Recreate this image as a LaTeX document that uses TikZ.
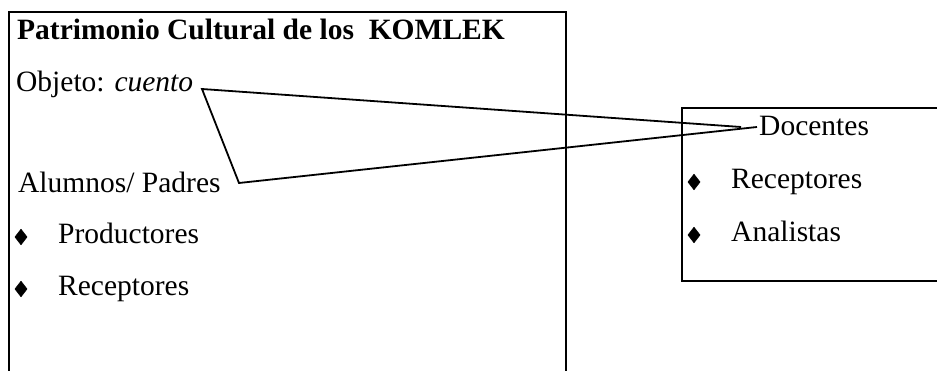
\documentclass[tikz,border=0pt]{standalone}
\usepackage{fontspec}
\setmainfont{Liberation Serif}
\usetikzlibrary{shapes.geometric}
\begin{document}
\begin{tikzpicture}[x=1pt,y=-1pt,
  txt/.style={anchor=base west,inner sep=0pt,font=\fontsize{29.5pt}{35pt}\selectfont},
  ttl/.style={txt,font=\fontsize{29.5pt}{35pt}\selectfont\bfseries},
  bul/.style={diamond,fill=black,draw=black,line width=0.6pt,inner sep=0pt,outer sep=0pt,minimum width=12pt,minimum height=15.5pt},
  frame/.style={draw=black,line width=2pt},
  conn/.style={draw=black,line width=1.8pt,line join=miter}]
\clip (0,0) rectangle (937,371);
\fill[white] (0,0) rectangle (937,371);
% boxes
\draw[frame] (9,400) -- (9,12) -- (566,12) -- (566,400);
\draw[frame] (960,108) -- (682,108) -- (682,281) -- (960,281);
% left texts
\node[ttl] (title) at (17,40) {Patrimonio Cultural de los\ \ KOMLEK};
\node[txt] (objeto) at (16,92) {Objeto: \textit{cuento}};
\node[txt] (alumnos) at (18,193) {Alumnos/ Padres};
\node[bul] (bulA1) at (21,237) {};
\node[txt] (prod) at (58,244) {Productores};
\node[bul] (bulA2) at (21,289) {};
\node[txt] (recA) at (58,296) {Receptores};
% right texts
\node[txt] (doc) at (759,136) {Docentes};
\node[bul] (bulB1) at (694,182) {};
\node[txt] (recB) at (731,189) {Receptores};
\node[bul] (bulB2) at (694,235) {};
\node[txt] (anal) at (731,242) {Analistas};
% connector
\coordinate (topend) at (741,127);
\coordinate (vA) at (202,89);
\coordinate (vB) at (239,183);
\coordinate (botend) at (757,127);
\draw[conn] (topend) -- (vA) -- (vB) -- (botend);
\end{tikzpicture}
\end{document}
